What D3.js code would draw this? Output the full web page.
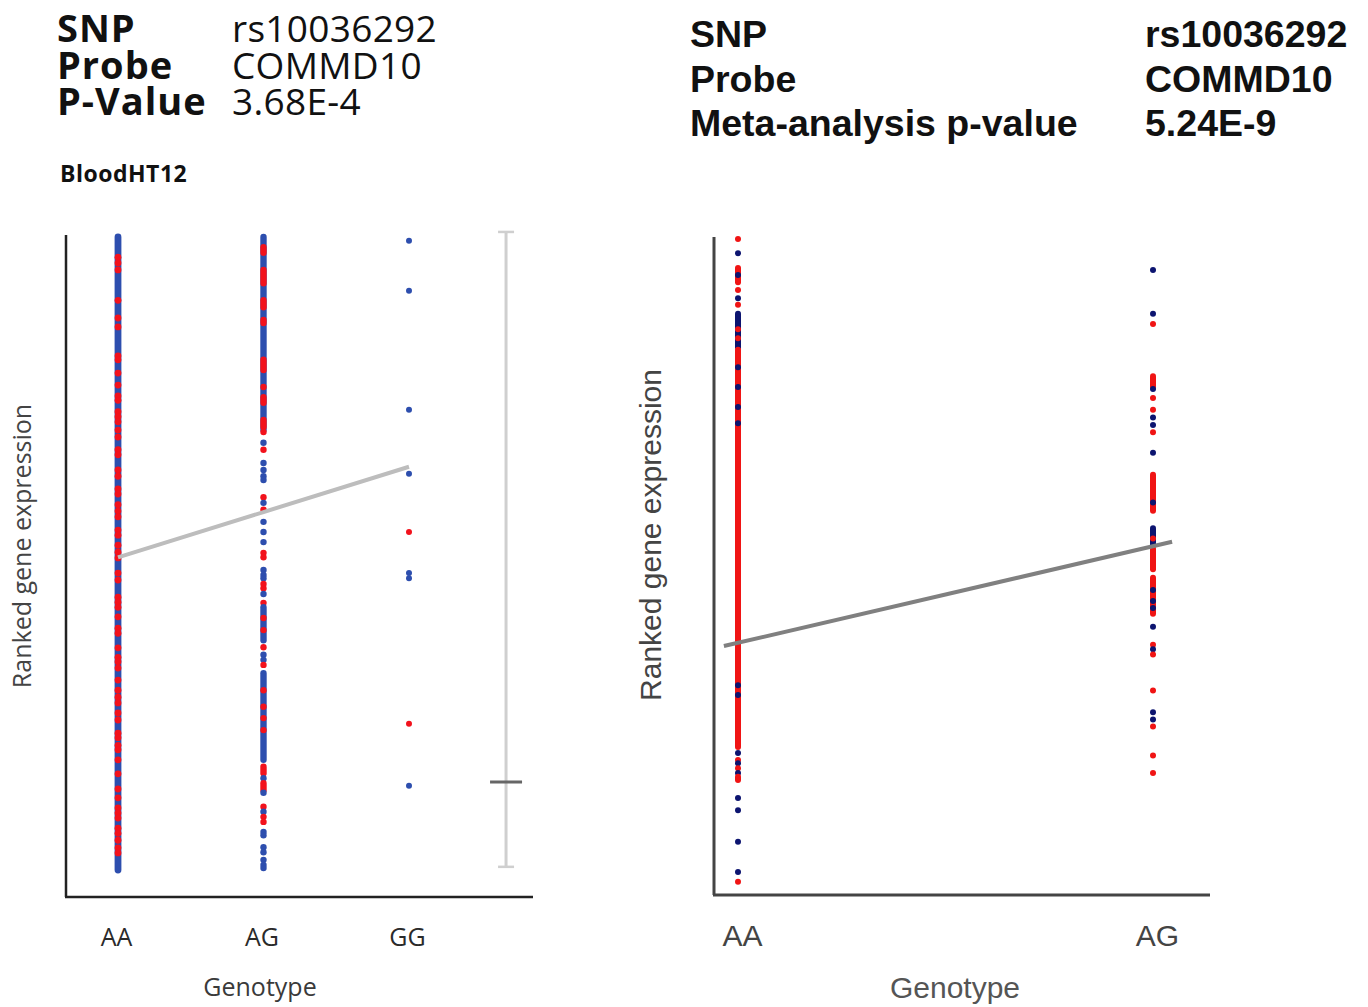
<!DOCTYPE html>
<html>
<head>
<meta charset="utf-8">
<script src="https://cdn.jsdelivr.net/npm/d3@7"></script>
<style>
  body { margin: 0; background: #fff; }
</style>
</head>
<body>
<div id="chart"></div>
<script>
// ---- data (ranked expression on a 0-100 scale) ----
var genotypesLeft = ['AA', 'AG', 'GG']
var genotypesRight = ['AA', 'AG']

// each entry: [low, high, group]; single dots have low == high
// group 'a' = blue dots, 'b' = red dots
var leftAA = [[0, 100, 'a'],
  [96.8,96.8,'b'],[95.9,95.9,'b'],[94.8,94.8,'b'],[90.0,90.0,'b'],[87.2,87.2,'b'],[85.8,85.8,'b'],
  [81.2,81.2,'b'],[80.6,80.6,'b'],[78.5,78.5,'b'],[76.6,76.6,'b'],[74.9,74.9,'b'],[74.2,74.2,'b'],
  [72.4,72.4,'b'],[71.6,71.6,'b'],[70.8,70.8,'b'],[69.5,69.5,'b'],[68.4,68.4,'b'],[66.4,66.4,'b'],
  [65.6,65.6,'b'],[63.2,63.2,'b'],[62.2,62.2,'b'],[60.2,60.2,'b'],[59.4,59.4,'b'],[57.7,57.7,'b'],
  [56.7,56.7,'b'],[55.8,55.8,'b'],[53.7,53.7,'b'],[52.9,52.9,'b'],[51.3,51.3,'b'],[50.2,50.2,'b'],
  [49.3,49.3,'b'],[46.9,46.9,'b'],[45.8,45.8,'b'],[43.1,43.1,'b'],[42.3,42.3,'b'],[41.5,41.5,'b'],
  [40.0,40.0,'b'],[38.2,38.2,'b'],[37.4,37.4,'b'],[35.1,35.1,'b'],[33.6,33.6,'b'],[32.9,32.9,'b'],
  [31.9,31.9,'b'],[30.0,30.0,'b'],[28.4,28.4,'b'],[27.3,27.3,'b'],[26.4,26.4,'b'],[24.8,24.8,'b'],
  [23.7,23.7,'b'],[21.6,21.6,'b'],[20.9,20.9,'b'],[19.7,19.7,'b'],[19.0,19.0,'b'],[17.4,17.4,'b'],
  [15.2,15.2,'b'],[12.8,12.8,'b'],[11.4,11.4,'b'],[9.8,9.8,'b'],[9.0,9.0,'b'],[8.2,8.2,'b'],
  [6.6,6.6,'b'],[5.8,5.8,'b'],[4.7,4.7,'b'],[3.5,3.5,'b'],[2.7,2.7,'b']]

var leftAG = [[69.5, 100, 'a'],
  [97.5,98.4,'b'],[92.7,94.8,'b'],[88.9,90.0,'b'],[86.4,86.9,'b'],[79.0,80.6,'b'],[76.3,76.3,'b'],
  [73.8,74.7,'b'],[70.0,71.1,'b'],[69.2,69.2,'b'],
  [67.5,67.5,'a'],[66.4,66.4,'b'],[64.3,64.3,'a'],[63.2,63.2,'a'],[62.2,62.2,'a'],[61.6,61.6,'a'],
  [58.9,58.9,'b'],[58.0,58.0,'a'],[56.9,56.9,'b'],[55.0,55.0,'a'],[53.4,53.4,'a'],[51.8,51.8,'a'],
  [50.1,50.1,'b'],[49.4,49.4,'b'],[47.4,47.4,'a'],[46.6,46.6,'a'],[46.1,46.1,'a'],[45.2,45.2,'b'],
  [44.5,44.5,'b'],[43.6,43.6,'a'],[42.2,42.2,'b'],[36.3,41.5,'a'],[39.8,39.8,'b'],[37.9,37.9,'b'],
  [35.2,35.2,'b'],[34.0,34.0,'a'],[33.2,33.2,'a'],[32.4,32.4,'b'],[17.4,31.1,'a'],[28.4,28.4,'b'],
  [25.8,25.8,'b'],[24.0,24.0,'b'],[22.1,22.1,'b'],[15.3,16.3,'b'],[14.5,14.5,'a'],[12.6,13.7,'b'],
  [12.2,12.2,'a'],[10.0,10.0,'b'],[9.2,9.2,'a'],[8.4,8.4,'b'],[7.6,7.6,'b'],[6.0,6.0,'a'],
  [5.5,5.5,'a'],[3.6,3.6,'a'],[2.8,2.8,'a'],[1.6,1.6,'a'],[0.8,0.8,'a'],[0.3,0.3,'a']]

var leftGG = [[99.4,99.4,'a'],[91.5,91.5,'a'],[72.7,72.7,'a'],[62.6,62.6,'a'],[53.4,53.4,'b'],
  [46.9,46.9,'a'],[46.1,46.1,'a'],[23.1,23.1,'b'],[13.3,13.3,'a']]

var rightAA = [[100,100,'b'],[97.8,97.8,'a'],[93.3,95.5,'b'],[94.4,94.4,'a'],[92.1,92.1,'b'],
  [90.8,90.8,'a'],[89.8,89.8,'b'],[83.2,88.4,'a'],[86.0,86.0,'b'],[84.6,84.6,'b'],[21.1,82.8,'b'],
  [80.1,80.1,'a'],[77.0,77.0,'a'],[73.9,73.9,'a'],[71.4,71.4,'a'],[30.7,30.7,'a'],[29.2,29.2,'a'],
  [20.2,20.2,'a'],[19.1,19.1,'b'],[18.6,18.6,'a'],[17.8,17.8,'b'],[17.1,17.1,'a'],[16.0,16.5,'b'],
  [13.2,13.2,'a'],[11.3,11.3,'a'],[6.4,6.4,'a'],[1.7,1.7,'a'],[0.2,0.2,'b']]

var rightAG = [[95.2,95.2,'a'],[88.4,88.4,'a'],[86.8,86.8,'b'],[77.1,78.7,'b'],[76.7,76.7,'a'],
  [75.3,75.3,'b'],[73.5,73.5,'b'],[72.3,72.3,'a'],[71.1,71.1,'a'],[70.0,70.0,'b'],[66.8,66.8,'a'],
  [57.8,63.4,'b'],[59.1,59.1,'a'],[52.4,55.1,'a'],[53.5,53.5,'b'],[48.7,51.9,'b'],[41.8,47.4,'b'],
  [45.5,45.5,'a'],[43.8,43.8,'a'],[42.7,42.7,'a'],[39.8,39.8,'a'],[37.0,37.0,'b'],[36.3,36.3,'a'],
  [35.5,35.5,'b'],[29.9,29.9,'b'],[26.5,26.5,'a'],[25.4,25.4,'a'],[24.3,24.3,'b'],[19.8,19.8,'b'],
  [17.1,17.1,'b']]

// fitted values per genotype
var leftFit = [49.4, 56.55, 63.7]
var rightFit = [37.3, 52.3]
// grey range bar at right of left panel: [low, high, marker]
var leftRange = [0.5, 100.8, 13.9]

var leftInfo = [['SNP', 'rs10036292'], ['Probe', 'COMMD10'], ['P-Value', '3.68E-4']]
var rightInfo = [['SNP', 'rs10036292'], ['Probe', 'COMMD10'], ['Meta-analysis p-value', '5.24E-9']]
var leftCohort = 'BloodHT12'

// ---- drawing ----
var svg = d3.select('#chart').append('svg')
  .attr('width', 1368)
  .attr('height', 1007)

function drawColumn(g, runs, x, y, colors, r) {
  g.selectAll(null)
    .data(runs)
    .enter()
    .append('rect')
    .attr('x', x - r)
    .attr('y', function(d){ return y(d[1]) - r })
    .attr('width', 2 * r)
    .attr('height', function(d){ return y(d[0]) - y(d[1]) + 2 * r })
    .attr('rx', r)
    .attr('fill', function(d){ return colors(d[2]) })
}

// ======== left panel ========
var leftFont = "'Open Sans', sans-serif"
var xL = d3.scalePoint().domain(genotypesLeft).range([118, 409])
var yL = d3.scaleLinear().domain([0, 100]).range([870, 237])
var colL = d3.scaleOrdinal().domain(['a', 'b']).range(['#2d4eae', '#f2121c'])
var gL = svg.append('g')

var hdrL = gL.append('g').style('font-family', leftFont).attr('fill', '#111')
leftInfo.forEach(function(row, i){
  hdrL.append('text').attr('x', 57).attr('y', 42 + i * 36.5)
    .attr('font-size', 38).attr('font-weight', 700).attr('letter-spacing', 1).text(row[0])
  hdrL.append('text').attr('x', 232).attr('y', 42 + i * 36.5)
    .attr('font-size', 37).attr('letter-spacing', 0.3).text(row[1])
})
hdrL.append('text').attr('x', 60).attr('y', 182)
  .attr('font-size', 23).attr('font-weight', 700).attr('letter-spacing', 0.5).text(leftCohort)

// axes
var axL = d3.axisBottom(xL).tickSize(0).tickPadding(0)
gL.append('line').attr('x1', 66).attr('x2', 66).attr('y1', 235).attr('y2', 897)
  .attr('stroke', '#222').attr('stroke-width', 2.5)
gL.append('line').attr('x1', 65).attr('x2', 533).attr('y1', 897).attr('y2', 897)
  .attr('stroke', '#222').attr('stroke-width', 2.5)
var tL = gL.append('g').attr('transform', 'translate(-2,946)').call(axL)
tL.select('.domain').remove()
tL.selectAll('text').attr('dy', 0).attr('font-size', 25).attr('fill', '#2a2a2a')
  .style('font-family', leftFont)

gL.append('text').attr('x', 260).attr('y', 996).attr('text-anchor', 'middle')
  .attr('font-size', 25).attr('fill', '#3a3a3a').style('font-family', leftFont).text('Genotype')
gL.append('text').attr('transform', 'translate(31,546) rotate(-90)').attr('text-anchor', 'middle')
  .attr('font-size', 25).attr('fill', '#444').style('font-family', leftFont).text('Ranked gene expression')

// range bar
var xBar = xL('GG') + xL.step() * 0.667
gL.append('line').attr('x1', xBar).attr('x2', xBar).attr('y1', yL(leftRange[1])).attr('y2', yL(leftRange[0]))
  .attr('stroke', '#cfcfcf').attr('stroke-width', 3)
;[leftRange[0], leftRange[1]].forEach(function(v){
  gL.append('line').attr('x1', xBar - 8).attr('x2', xBar + 8).attr('y1', yL(v)).attr('y2', yL(v))
    .attr('stroke', '#cfcfcf').attr('stroke-width', 2.5)
})
gL.append('line').attr('x1', xBar - 16).attr('x2', xBar + 16).attr('y1', yL(leftRange[2])).attr('y2', yL(leftRange[2]))
  .attr('stroke', '#666').attr('stroke-width', 3)

drawColumn(gL, leftAA, xL('AA'), yL, colL, 3.4)
drawColumn(gL, leftAG, xL('AG'), yL, colL, 3.2)
drawColumn(gL, leftGG, xL('GG'), yL, colL, 3)

gL.append('path')
  .datum(genotypesLeft.map(function(g, i){ return [xL(g), yL(leftFit[i])] }))
  .attr('d', d3.line())
  .attr('fill', 'none').attr('stroke', '#bdbdbd').attr('stroke-width', 4)

// ======== right panel ========
var rightFont = "'Liberation Sans', Arial, sans-serif"
var xR = d3.scalePoint().domain(genotypesRight).range([738, 1153])
var yR = d3.scaleLinear().domain([0, 100]).range([883, 239])
var colR = d3.scaleOrdinal().domain(['a', 'b']).range(['#0c1470', '#f01414'])
var gR = svg.append('g')

var hdrR = gR.append('g').style('font-family', rightFont).attr('fill', '#111').attr('font-weight', 700)
rightInfo.forEach(function(row, i){
  hdrR.append('text').attr('x', 690).attr('y', 47 + i * 44.5).attr('font-size', 37.5).text(row[0])
  hdrR.append('text').attr('x', 1145).attr('y', 47 + i * 44.5).attr('font-size', 37.5).text(row[1])
})

gR.append('line').attr('x1', 714).attr('x2', 714).attr('y1', 237).attr('y2', 895)
  .attr('stroke', '#444').attr('stroke-width', 3)
gR.append('line').attr('x1', 713).attr('x2', 1210).attr('y1', 895).attr('y2', 895)
  .attr('stroke', '#444').attr('stroke-width', 3)
var axR = d3.axisBottom(xR).tickSize(0).tickPadding(0)
var tR = gR.append('g').attr('transform', 'translate(4,946)').call(axR)
tR.select('.domain').remove()
tR.selectAll('text').attr('dy', 0).attr('font-size', 30).attr('fill', '#444')
  .style('font-family', rightFont)

gR.append('text').attr('x', 955).attr('y', 998).attr('text-anchor', 'middle')
  .attr('font-size', 30).attr('fill', '#555').style('font-family', rightFont).text('Genotype')
gR.append('text').attr('transform', 'translate(661,535) rotate(-90)').attr('text-anchor', 'middle')
  .attr('font-size', 30).attr('fill', '#444').style('font-family', rightFont).text('Ranked gene expression')

drawColumn(gR, rightAA, xR('AA'), yR, colR, 3)
drawColumn(gR, rightAG, xR('AG'), yR, colR, 3)

// fitted line, drawn a little past both genotype columns
var fitR = d3.scaleLinear().domain([0, 1]).range(rightFit)
var extR = [-0.034, 1.046].map(function(t){
  return [xR('AA') + t * (xR('AG') - xR('AA')), yR(fitR(t))]
})
gR.append('path').datum(extR).attr('d', d3.line())
  .attr('fill', 'none').attr('stroke', '#808080').attr('stroke-width', 4)
</script>
</body>
</html>
